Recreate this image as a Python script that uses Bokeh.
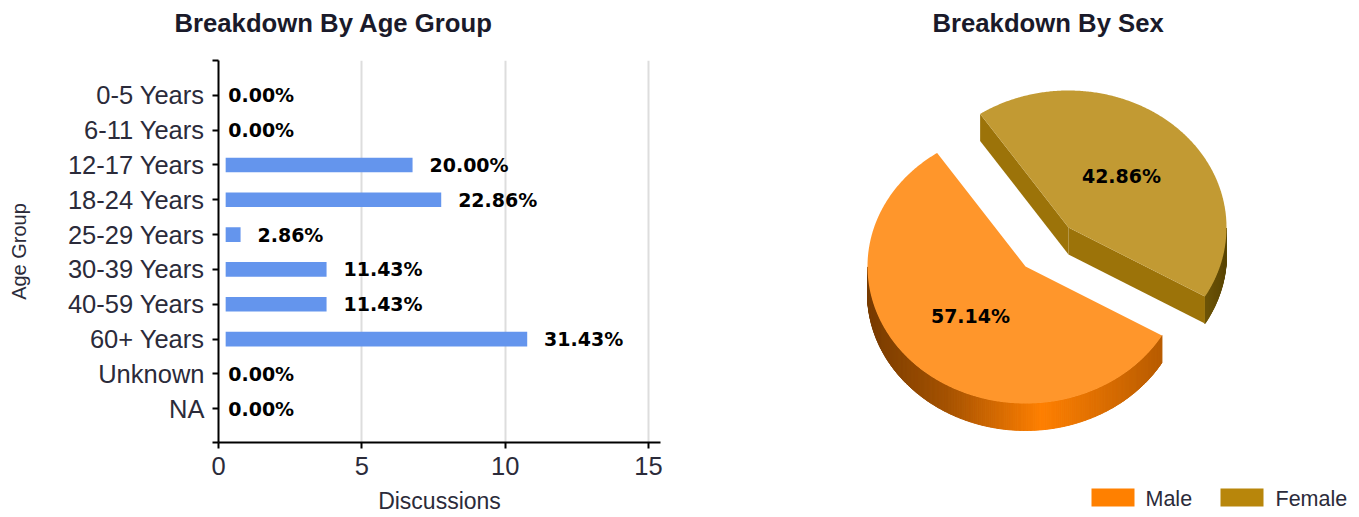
import math
from bokeh.embed import file_html
from bokeh.layouts import column, row
from bokeh.models import ColumnDataSource, FixedTicker, Range1d, Title
from bokeh.plotting import figure
from bokeh.resources import INLINE
from bokeh.core.properties import value

# ---- data ----
age_groups = ["0-5 Years", "6-11 Years", "12-17 Years", "18-24 Years", "25-29 Years",
              "30-39 Years", "40-59 Years", "60+ Years", "Unknown", "NA"]
discussions = [0, 0, 7, 8, 1, 4, 4, 11, 0, 0]
age_labels = ["0.00%", "0.00%", "20.00%", "22.86%", "2.86%",
              "11.43%", "11.43%", "31.43%", "0.00%", "0.00%"]
x_ticks = [0, 5, 10, 15]
sexes = ["Male", "Female"]
sex_shares = [57.14, 42.86]
sex_labels = ["57.14%", "42.86%"]

# ---- style ----
SANS = "Liberation Sans"
LABEL_FONT = "DejaVu Sans"
BAR = "#6495ED"
MALE_TOP, FEMALE_TOP = "#FF962B", "#C29A33"
MALE_KEY, FEMALE_KEY = "#FF8000", "#B8860B"
TEXT = "#2b2b3a"
Y_TOP, Y_BOTTOM = -1.0, 9.97


def set_title(fig, text, offset):
    fig.title.text = text
    fig.title.align = "left"
    fig.title.offset = offset
    fig.title.standoff = 0
    fig.title.text_font = SANS
    fig.title.text_font_size = "25.7px"
    fig.title.text_font_style = "bold"
    fig.title.text_color = "#1a1a2a"
    # blank strip between the title and the plot area
    fig.add_layout(Title(text=" ", text_font_size="20px", standoff=0), "above")


# ---- left: bars ----
left = figure(width=680, height=517, output_backend="svg", toolbar_location=None,
              x_range=Range1d(0, 15.42), y_range=Range1d(Y_BOTTOM, Y_TOP),
              min_border_left=218, min_border_right=20, min_border_top=60, min_border_bottom=75,
              outline_line_color=None)
set_title(left, "Breakdown By Age Group", -44)
left.ygrid.visible = False
left.xgrid.ticker = FixedTicker(ticks=x_ticks[1:])
left.xgrid.grid_line_color = "#dddddd"
left.xgrid.grid_line_width = 2
left.xaxis.ticker = FixedTicker(ticks=x_ticks)
left.yaxis.ticker = FixedTicker(ticks=[Y_TOP] + list(range(len(age_groups))) + [Y_BOTTOM])
left.yaxis.major_label_overrides = {**{i: g for i, g in enumerate(age_groups)}, Y_TOP: "", Y_BOTTOM: ""}
for ax in (left.xaxis[0], left.yaxis[0]):
    ax.axis_line_color = "#000000"
    ax.axis_line_width = 2
    ax.major_tick_line_color = "#000000"
    ax.major_tick_line_width = 2
    ax.major_tick_in = 0
    ax.major_tick_out = 6
    ax.minor_tick_line_color = None
    ax.major_label_text_font = SANS
    ax.major_label_text_font_size = "25.5px"
    ax.major_label_text_color = TEXT
    ax.axis_label_text_font = SANS
    ax.axis_label_text_font_style = "normal"
    ax.axis_label_text_color = TEXT
left.yaxis.major_label_standoff = 8
left.xaxis.major_label_standoff = 8
left.xaxis.axis_label = "Discussions"
left.xaxis.axis_label_text_font_size = "23px"
left.xaxis.axis_label_text_baseline = "middle"
left.xaxis.axis_label_standoff = 10
left.yaxis.axis_label = "Age Group"
left.yaxis.axis_label_text_font_size = "20px"
left.yaxis.axis_label_standoff = 35

ys = list(range(len(age_groups)))
nz = [i for i, v in enumerate(discussions) if v > 0]
left.hbar(y=[ys[i] for i in nz], left=0.25, right=[discussions[i] - 0.23 for i in nz],
          height=0.42, fill_color=BAR, line_color=None)
src = ColumnDataSource(dict(y=ys, x=[(v + 0.36) if v > 0 else 0.34 for v in discussions], t=age_labels))
left.text(x="x", y="y", text="t", source=src, text_font=value(LABEL_FONT), text_font_style="bold",
          text_font_size="19px", text_color="#000000", text_baseline="middle", text_align="left")

# ---- right: pie, 1 data unit = 1 screen pixel ----
right = figure(width=679, height=517, output_backend="svg", toolbar_location=None,
               x_range=Range1d(680, 1359), y_range=Range1d(517, 60),
               x_axis_type=None, y_axis_type=None,
               min_border_left=0, min_border_right=0, min_border_top=60, min_border_bottom=0,
               outline_line_color=None)
right.grid.visible = False
set_title(right, "Breakdown By Sex", 252)

RX, RY, DEPTH = 158, 137, 27
START = 124.0
CENTERS = [(1025, 266), (1068, 227)]
TOPS = [MALE_TOP, FEMALE_TOP]
CUT = "#9C7309"
STOPS = [
    [(-1.0, (120, 60, 0)), (-0.5, (165, 82, 0)), (0.1, (255, 128, 0)), (0.87, (184, 92, 0))],
    [(0.0, (90, 70, 5)), (0.87, (110, 85, 8)), (1.0, (90, 70, 5))],
]


def shade(stops, t):
    if t <= stops[0][0]:
        return stops[0][1]
    for (a, ca), (b, cb) in zip(stops, stops[1:]):
        if t <= b:
            f = (t - a) / (b - a)
            return tuple(int(ca[k] + (cb[k] - ca[k]) * f) for k in range(3))
    return stops[-1][1]


def pt(c, deg):
    r = math.radians(deg)
    return c[0] + RX * math.cos(r), c[1] - RY * math.sin(r)


ang = START
for i, share in enumerate(sex_shares):
    c = CENTERS[i]
    a0, a1 = ang, ang + share * 3.6
    ang = a1
    # walls
    wx, wy, wc = [], [], []
    n = int(a1 - a0) * 2
    for k in range(n):
        t0 = a0 + (a1 - a0) * k / n
        t1 = a0 + (a1 - a0) * (k + 1) / n
        if math.sin(math.radians((t0 + t1) / 2)) >= 0:
            continue
        x0, y0 = pt(c, t0)
        x1, y1 = pt(c, t1)
        wx.append([x0, x1, x1, x0])
        wy.append([y0, y1, y1 + DEPTH, y0 + DEPTH])
        rgb = shade(STOPS[i], (x0 - c[0]) / RX)
        wc.append("#%02x%02x%02x" % rgb)
    right.patches(wx, wy, fill_color=wc, line_color=wc, line_width=1)
    if i == 1:
        # the two cut faces of the pulled-out slice
        for deg in (a0, a1):
            px, py = pt(c, deg)
            right.patch([c[0], px, px, c[0]], [c[1], py, py + DEPTH, c[1] + DEPTH],
                        fill_color=CUT, line_color=None)
    # top
    n = int(a1 - a0) * 2
    arc = [pt(c, a0 + (a1 - a0) * k / n) for k in range(n + 1)]
    right.patch([c[0]] + [p[0] for p in arc], [c[1]] + [p[1] for p in arc],
                fill_color=TOPS[i], line_color=None)

right.text(x=[970, 1121], y=[315, 175], text=sex_labels, text_font=value(LABEL_FONT),
           text_font_style="bold", text_font_size="19px", text_color="#000000",
           text_align="center", text_baseline="middle")

# legend
right.quad(left=[1091, 1220], right=[1134, 1263], top=[488, 488], bottom=[506, 506],
           fill_color=[MALE_KEY, FEMALE_KEY], line_color=None)
right.text(x=[1145, 1275], y=[498, 498], text=sexes, text_font=value(SANS), text_font_size="21.5px",
           text_color=TEXT, text_baseline="middle", text_align="left")

open("out.html", "w").write(file_html(row(column(left), column(right), spacing=0), INLINE))
